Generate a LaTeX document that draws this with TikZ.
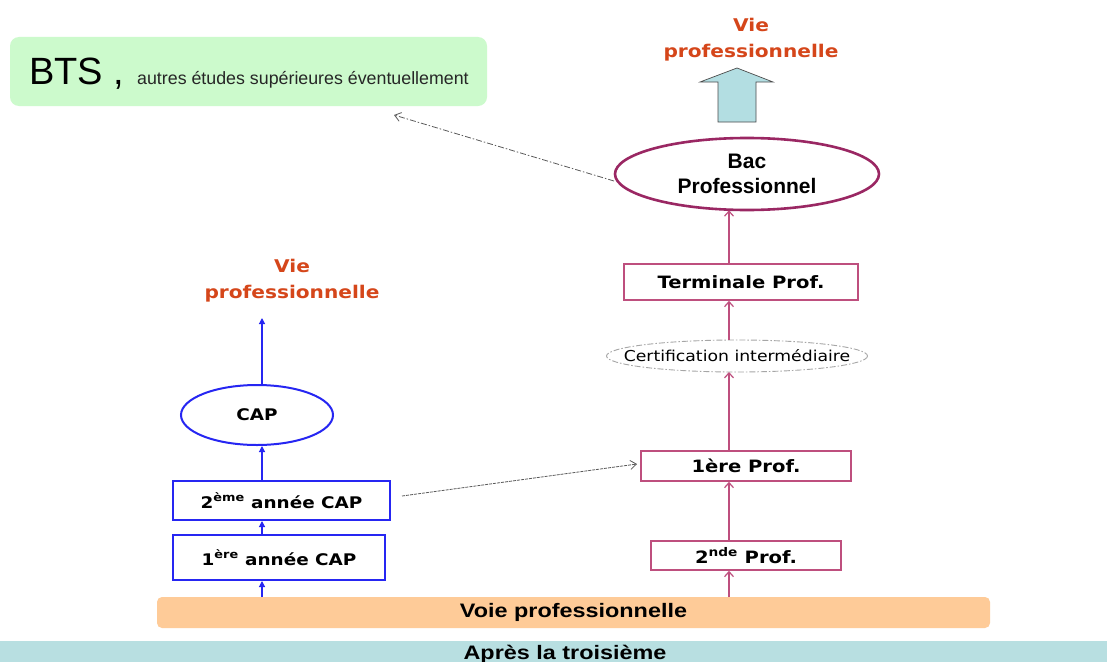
\documentclass[tikz,border=0pt]{standalone}
\usepackage{fontspec}
\setmainfont{Liberation Sans}
\newfontfamily\comicf[FakeStretch=1.15]{DejaVu Sans}
\newfontfamily\widef[FakeStretch=1.2]{Liberation Sans}
\usetikzlibrary{shapes.geometric,arrows.meta}
\definecolor{btsgreen}{HTML}{CCFACC}
\definecolor{vieorange}{HTML}{D5461A}
\definecolor{bluearrow}{HTML}{B3DEE2}
\definecolor{bacborder}{HTML}{9A2763}
\definecolor{pinkb}{HTML}{BE4F7E}
\definecolor{capblue}{HTML}{2626F2}
\definecolor{peach}{HTML}{FECB98}
\definecolor{teal}{HTML}{B8DFE1}
\tikzset{
  vie/.style={text=vieorange, font=\comicf\bfseries\fontsize{17.5}{26}\selectfont, align=center},
  pinkbox/.style={draw=pinkb, line width=1.6pt, inner sep=0pt, font=\comicf\bfseries\fontsize{17}{19}\selectfont},
  bluebox/.style={draw=capblue, line width=2pt, inner sep=0pt, font=\comicf\bfseries\fontsize{16}{18}\selectfont},
  pinkarrow/.style={draw=pinkb, line width=1.2pt, -{Straight Barb[length=5pt,width=9pt]}},
  bluearr/.style={draw=capblue, line width=1.2pt, -{Triangle[length=6pt,width=6pt]}},
  grayarrow/.style={draw=gray!70!black, line width=0.8pt, -{Straight Barb[length=6pt,width=9pt]}},
}
\begin{document}
\begin{tikzpicture}[x=1pt,y=-1pt]
\useasboundingbox (0,0) rectangle (1107,661);
\clip (0,0) rectangle (1107,661);
\fill[white] (0,0) rectangle (1107,661);
% BTS
\node[fill=btsgreen, rounded corners=9pt, minimum width=477pt, minimum height=69pt, inner sep=0pt] (bts) at (248.5,71.5) {};
\node[anchor=base west, inner sep=0pt, font=\fontsize{38}{40}\selectfont] (btst) at (29,84) {BTS\ ,};
\node[anchor=base west, inner sep=0pt, font=\fontsize{17.8}{20}\selectfont, text=black!85] (btsr) at (137,84) {autres études supérieures éventuellement};
% top Vie professionnelle
\node[vie] (vie1) at (751,40) {Vie\\professionnelle};
% Bac pro
\node[ellipse, draw=bacborder, line width=2.6pt, minimum width=264pt, minimum height=72pt, inner sep=0pt, align=center, font=\bfseries\fontsize{21}{25}\selectfont] (bac) at (747,174) {Bac\\Professionnel};
% block arrow
\draw[fill=bluearrow, draw=gray!60!black, line width=0.7pt]
  (718,122) -- (718,82) -- (700,82) -- (737,68) -- (773,82) -- (756,82) -- (756,122) -- cycle;
% Terminale
\node[pinkbox, minimum width=234pt, minimum height=36pt] (term) at (741,282) {Terminale Prof.};
% certification
\node[inner sep=0pt, minimum width=261pt, minimum height=32pt, font=\comicf\fontsize{15}{17}\selectfont] (cert) at (737,356) {Certification intermédiaire};
\draw[gray!70, dash pattern=on 6pt off 2pt on 1.5pt off 2pt, line width=0.9pt] (cert.center) ellipse [x radius=130.5, y radius=16];
% 1ere prof
\node[pinkbox, minimum width=210pt, minimum height=30pt] (p1) at (746,466) {1ère Prof.};
% 2nde prof
\node[pinkbox, minimum width=190pt, minimum height=29pt] (p2) at (746,555.5) {2\textsuperscript{nde} Prof.};
% bands
\node[fill=peach, rounded corners=5pt, minimum width=833pt, minimum height=31pt, inner sep=0pt, font=\widef\bfseries\fontsize{19.5}{21}\selectfont] (voie) at (573.5,612.5) {Voie professionnelle};
\node[fill=teal, minimum width=1107pt, minimum height=24pt, inner sep=0pt, anchor=north west] (apres) at (0,641) {};
\node[anchor=base, inner sep=0pt, font=\widef\bfseries\fontsize{19.5}{21}\selectfont] (apt) at (565,659) {Après la troisième};
% left side
\node[vie] (vie2) at (292,281) {Vie\\professionnelle};
\node[ellipse, draw=capblue, line width=2pt, minimum width=152pt, minimum height=60pt, inner sep=0pt, font=\comicf\bfseries\fontsize{16}{18}\selectfont] (cap) at (257,415) {CAP};
\node[bluebox, minimum width=217pt, minimum height=39pt] (c2) at (281.5,500.5) {2\textsuperscript{ème} année CAP};
\node[bluebox, minimum width=212pt, minimum height=45pt] (c1) at (279,557.5) {1\textsuperscript{ère} année CAP};
\coordinate (v2b) at (262,318);
% arrows
\coordinate (vb1) at (262,597);
\coordinate (vb2) at (729,597);
\coordinate (certb) at (729,372);
\coordinate (certt) at (729,340);
\draw[bluearr] (vb1) -- (c1.south -| vb1);
\draw[bluearr] (c1.north -| vb1) -- (c2.south -| vb1);
\draw[bluearr] (c2.north -| vb1) -- (cap.south -| vb1);
\draw[bluearr] (cap.north -| vb1) -- (v2b);
\draw[pinkarrow] (vb2) -- (p2.south -| vb2);
\draw[pinkarrow] (p2.north -| vb2) -- (p1.south -| vb2);
\draw[pinkarrow] (p1.north -| vb2) -- (certb);
\draw[pinkarrow] (certt) -- (term.south -| vb2);
\draw[pinkarrow] (term.north -| vb2) -- ([yshift=1pt]bac.south -| vb2);
\coordinate (c2r) at (402,496);
\coordinate (p1l) at (637,464);
\draw[grayarrow, dash pattern=on 3pt off 1pt] (c2r) -- (p1l);
\coordinate (bacl) at (614,181);
\coordinate (btsa) at (394,115);
\draw[grayarrow, dash pattern=on 6pt off 2pt on 1.5pt off 2pt] (bacl) -- (btsa);
\end{tikzpicture}
\end{document}
